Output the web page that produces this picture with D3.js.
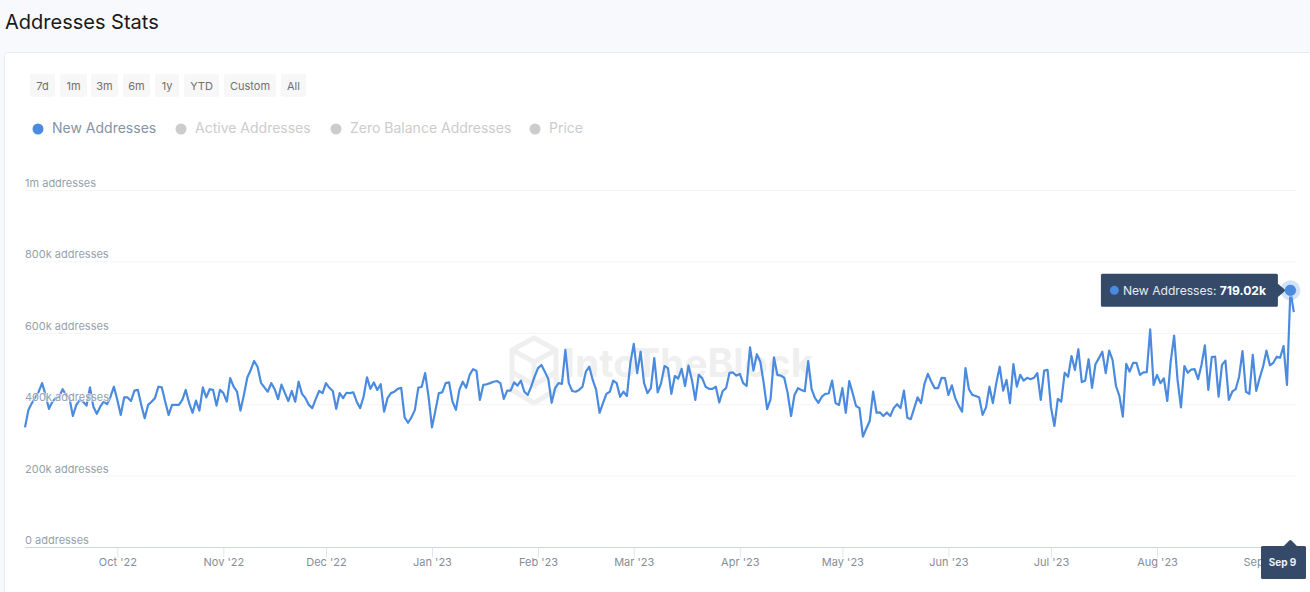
<!DOCTYPE html>
<html>
<head>
<meta charset="utf-8">
<script src="https://cdnjs.cloudflare.com/ajax/libs/d3/7.8.5/d3.min.js"></script>
<style>
  html, body { margin: 0; padding: 0; background: #f8f9fd; overflow: hidden; }
  svg { display: block; font-family: Inter, "Noto Sans", sans-serif; }
</style>
</head>
<body>
<script>
// daily new addresses, in thousands
const newAddresses = [
  335,384,403,419,435,459,426,387,407,417,421,442,426,417,367,398,412,407,396,447,
  393,373,393,407,400,421,449,412,370,419,419,409,438,440,398,361,398,407,417,449,
  447,407,370,398,398,398,412,440,403,376,410,382,447,419,442,440,396,440,431,407,
  473,449,435,382,426,475,496,521,505,460,447,435,459,442,414,455,431,409,437,407,
  463,429,417,398,389,414,437,431,459,446,437,387,431,417,432,431,433,407,389,421,
  475,443,461,440,456,379,417,431,435,443,446,363,348,363,384,446,449,487,421,335,382,
  431,433,459,461,407,384,440,463,446,482,498,494,412,454,456,459,463,465,459,415,
  438,438,461,452,466,435,426,449,477,501,510,491,471,404,445,459,457,552,459,437,
  435,440,449,491,505,468,440,376,403,429,435,466,459,421,435,423,515,569,487,
  547,460,431,445,529,433,459,507,501,429,479,472,499,451,508,468,412,482,473,449,
  443,443,449,405,437,445,488,489,480,485,459,451,559,494,540,519,459,386,414,531,
  482,480,474,431,367,426,445,440,436,521,442,417,404,421,429,430,466,403,398,445,
  376,465,431,395,389,309,332,353,435,376,377,367,377,367,389,400,389,438,362,358,
  389,419,403,457,485,463,445,445,474,473,426,453,417,396,379,501,442,426,423,419,
  370,391,449,403,459,505,438,468,403,512,449,482,466,474,470,474,487,412,494,496,
  391,339,415,407,488,477,535,496,554,462,466,526,446,512,529,547,487,550,524,451,
  423,365,513,491,516,516,482,489,490,610,454,482,459,472,409,519,592,468,391,507,
  488,497,498,470,510,565,440,532,533,421,510,522,412,435,442,477,549,435,429,538,
  437,473,505,550,509,516,533,530,563,454,719.02,658
];
const firstDay = "2022-09-04";
const peakDay = "2023-09-09";
const peakLabel = "719.02k";
const peakDate = "Sep 9";

const yTicks = [0, 200, 400, 600, 800, 1000];
const yLabels = ["0 addresses", "200k addresses", "400k addresses", "600k addresses", "800k addresses", "1m addresses"];
const xMonths = ["2022-10-01","2022-11-01","2022-12-01","2023-01-01","2023-02-01","2023-03-01","2023-04-01","2023-05-01","2023-06-01","2023-07-01","2023-08-01","2023-09-01"];
const xLabels = ["Oct '22","Nov '22","Dec '22","Jan '23","Feb '23","Mar '23","Apr '23","May '23","Jun '23","Jul '23","Aug '23","Sep '23"];
const ranges = ["7d","1m","3m","6m","1y","YTD","Custom","All"];
const rangeX = [30, 60, 91, 123, 155, 184, 224, 281];
const rangeW = [25, 27, 27, 27, 24, 35, 52, 25];
const legendNames = ["New Addresses","Active Addresses","Zero Balance Addresses","Price"];
const legendX = [38, 181, 336, 535];

const blue = "#4a8bdf";
const navy = "#354a69";

const parse = d3.utcParse("%Y-%m-%d");
const start = parse(firstDay);
const points = newAddresses.map((v, i) => ({ date: d3.utcDay.offset(start, i), value: v }));
const peak = points.find(d => +d.date === +parse(peakDay));

const svg = d3.select("body").append("svg")
  .attr("width", 1310)
  .attr("height", 592);

const x = d3.scaleUtc()
  .domain([start, d3.utcDay.offset(start, newAddresses.length - 1)])
  .range([25, 25 + 3.42 * (newAddresses.length - 1)]);
const y = d3.scaleLinear().domain([0, 1000]).range([547, 190]);

// page header and card
svg.append("text").attr("x", 5).attr("y", 29)
  .attr("font-size", 20).attr("fill", "#1a1a1a").text("Addresses Stats");
svg.append("rect").attr("x", 4.5).attr("y", 52.5).attr("width", 1320).attr("height", 560)
  .attr("rx", 3).attr("fill", "#fff").attr("stroke", "#e9edf3");

// range buttons
const btn = svg.selectAll("g.btn").data(ranges).enter().append("g").attr("class", "btn");
btn.append("rect")
  .attr("x", (d, i) => rangeX[i]).attr("y", 74)
  .attr("width", (d, i) => rangeW[i]).attr("height", 23)
  .attr("rx", 2).attr("fill", "#f7f7f7");
btn.append("text")
  .attr("x", (d, i) => rangeX[i] + rangeW[i] / 2).attr("y", 90)
  .attr("text-anchor", "middle").attr("font-size", 11).attr("fill", "#707070")
  .text(d => d);

// legend
const leg = svg.selectAll("g.leg").data(legendNames).enter().append("g").attr("class", "leg");
leg.append("circle")
  .attr("cx", (d, i) => legendX[i]).attr("cy", 129).attr("r", 5.5)
  .attr("fill", (d, i) => i === 0 ? blue : "#ccc");
leg.append("text")
  .attr("x", (d, i) => legendX[i] + 14).attr("y", 133)
  .attr("font-size", 14)
  .attr("fill", (d, i) => i === 0 ? "#8593a6" : "#ccc")
  .text(d => d);

// watermark
const wm = svg.append("g").attr("fill", "none").attr("stroke", "#efefef").attr("stroke-width", 5);
wm.append("path").attr("d", "M534 338 L556 350 L556 390 L534 403 L512 390 L512 350 Z");
wm.append("path").attr("d", "M512 350 L534 362 L556 350 M534 362 L534 385 L512 372 M534 385 L556 372");
svg.append("text").attr("x", 564).attr("y", 377)
  .attr("font-size", 39).attr("font-weight", 700).attr("fill", "#efefef")
  .text("IntoTheBlock");

// grid
svg.selectAll("line.grid").data(yTicks.slice(1)).enter().append("line")
  .attr("class", "grid")
  .attr("x1", 25).attr("x2", 1296)
  .attr("y1", d => y(d) + 0.5).attr("y2", d => y(d) + 0.5)
  .attr("stroke", "#f3f4f6");

// x axis
const xAxis = svg.append("g")
  .attr("transform", "translate(0,547.5)")
  .call(d3.axisBottom(x)
    .tickValues(xMonths.map(parse))
    .tickSize(10)
    .tickFormat((d, i) => xLabels[i]));
xAxis.select(".domain").attr("stroke", "#ccd6eb").attr("d", "M25,0H1300");
xAxis.selectAll(".tick line").attr("stroke", "#dfe5f0");
xAxis.selectAll(".tick text")
  .attr("font-family", "Inter, sans-serif").attr("font-size", 11).attr("fill", "#858d99").attr("dy", 5);

// series
const line = d3.line().x(d => x(d.date)).y(d => y(d.value));
svg.append("path").datum(points)
  .attr("fill", "none").attr("stroke", blue).attr("stroke-width", 2.2)
  .attr("stroke-linejoin", "round")
  .attr("d", line);

// y labels sit on top of the line
svg.selectAll("text.ylab").data(yTicks).enter().append("text")
  .attr("class", "ylab")
  .attr("x", 25).attr("y", d => y(d) - 3)
  .attr("font-size", 11).attr("fill", "#969fac")
  .attr("stroke", "rgba(255,255,255,0.6)").attr("stroke-width", 2).attr("paint-order", "stroke")
  .text((d, i) => yLabels[i]);

// hover marker
svg.append("circle").attr("cx", x(peak.date)).attr("cy", y(peak.value)).attr("r", 10)
  .attr("fill", blue).attr("fill-opacity", 0.25);
svg.append("circle").attr("cx", x(peak.date)).attr("cy", y(peak.value)).attr("r", 6)
  .attr("fill", blue).attr("stroke", "#fff").attr("stroke-width", 0.5);

// value tooltip
const px = x(peak.date), py = y(peak.value);
svg.append("path")
  .attr("d", `M${px - 188} ${py - 15} H${px - 14} V${py - 6} L${px - 7} ${py} L${px - 14} ${py + 6} V${py + 15} H${px - 188} Z`)
  .attr("fill", navy).attr("stroke", navy).attr("stroke-width", 3).attr("stroke-linejoin", "round");
svg.append("circle").attr("cx", px - 176).attr("cy", py).attr("r", 4.5).attr("fill", blue);
const tip = svg.append("text").attr("x", px - 167.5).attr("y", py + 4.5)
  .attr("font-size", 12.1).attr("fill", "#e6eaf1");
tip.append("tspan").text("New Addresses: ");
tip.append("tspan").attr("font-weight", 700).attr("fill", "#fff").text(peakLabel);

// date tooltip on the axis
svg.append("path")
  .attr("d", `M1262.5 547.5 H${px - 6} L${px} 541.5 L${px + 6} 547.5 H1304.5 V577.5 H1262.5 Z`)
  .attr("fill", navy).attr("stroke", navy).attr("stroke-width", 3).attr("stroke-linejoin", "round");
svg.append("text").attr("x", 1282.5).attr("y", 566)
  .attr("text-anchor", "middle").attr("font-size", 10).attr("font-weight", 700).attr("fill", "#eef1f6")
  .text(peakDate);
</script>
</body>
</html>
